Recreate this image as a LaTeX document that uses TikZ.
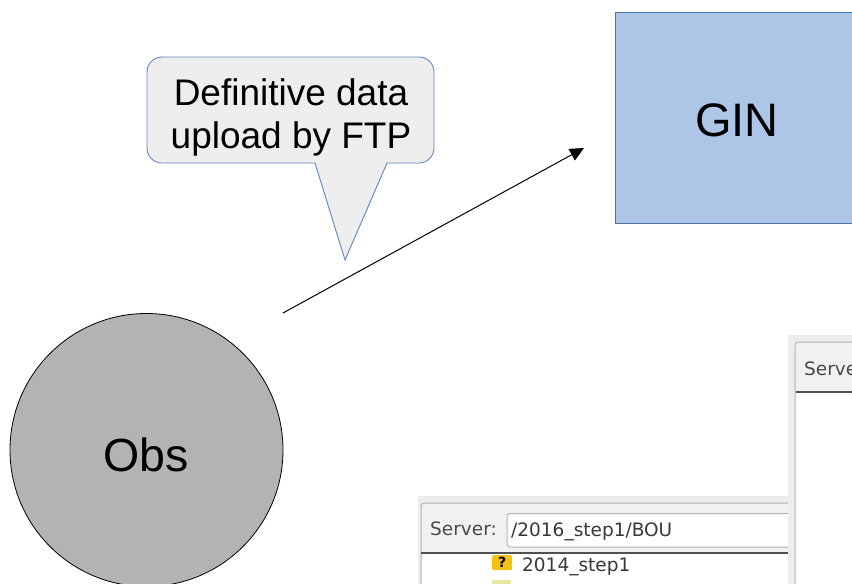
\documentclass[tikz,border=0pt]{standalone}
\usepackage{fontspec}
\setmainfont{Liberation Sans}
\newfontfamily\uifont{DejaVu Sans}
\usetikzlibrary{arrows.meta}
\definecolor{ginfill}{HTML}{ADC5E7}
\definecolor{ginedge}{HTML}{4A72A8}
\definecolor{callfill}{HTML}{EEEEEE}
\definecolor{calledge}{HTML}{5F87C0}
\definecolor{obsfill}{HTML}{B3B3B3}
\definecolor{uibg}{HTML}{EDECEB}
\definecolor{uihead}{HTML}{F2F1F0}
\definecolor{uiedge}{HTML}{B5B3B0}
\definecolor{uisep}{HTML}{505050}
\definecolor{uitext}{HTML}{4A4A4A}
\definecolor{iconyel}{HTML}{F5C211}
\tikzset{
  big/.style={font=\fontsize{46.5}{50}\selectfont},
  calltext/.style={font=\fontsize{37}{43}\selectfont, align=center, inner sep=0pt},
  uitxt/.style={font=\uifont\fontsize{18.5}{20}\selectfont, text=uitext, inner sep=0pt, anchor=base west},
  conn/.style={draw=black, line width=1pt, -{Triangle[length=14pt,width=13pt]}},
}
\begin{document}
\begin{tikzpicture}[x=1pt,y=-1pt]
\useasboundingbox (0,0) rectangle (852,584);
\fill[white] (0,0) rectangle (852,584);
\begin{scope}
\clip (0,0) rectangle (852,584);
% Obs circle
\node[circle, draw=black, line width=0.8pt, fill=obsfill, minimum size=273pt, inner sep=0pt] (obs) at (146.5,450) {};
\node[big, inner sep=0pt] (obslabel) at (146,455) {Obs};
% GIN box
\node[draw=ginedge, line width=1.1pt, fill=ginfill, minimum width=245pt, minimum height=211pt, inner sep=0pt, anchor=north west] (gin) at (615,12) {};
\node[big, inner sep=0pt, font=\fontsize{47}{50}\selectfont] (ginlabel) at (737,120) {GIN};
% callout
\coordinate (tip) at (345,260);
\draw[draw=calledge, line width=0.9pt, fill=callfill]
  (315,163) [rounded corners=15pt] -- (147,163) -- (147,57) -- (434,57) -- (434,163) [sharp corners] -- (387,163) -- (tip) -- cycle;
\node[calltext] (calllabel) at (291,117) {Definitive data\\upload by FTP};
% connector
\coordinate (a1) at (283,313);
\coordinate (a2) at (584,148);
\draw[conn] (a1) -- (a2);
% left screenshot panel
\fill[uibg] (418,496) rectangle (790,590);
\draw[uiedge, line width=1pt, fill=uihead, rounded corners=3pt] (421,503) rectangle (800,600);
\fill[white] (422,553) rectangle (790,590);
\draw[uiedge, line width=1pt, fill=white, rounded corners=3pt] (507,513.5) rectangle (800,547);
\draw[uisep, line width=1.3pt] (421,553) -- (790,553);
\node[uitxt] (srv1) at (430,535.5) {Server:};
\node[uitxt, text=black!78] (path1) at (511,536) {/2016\_step1/BOU};
\node[fill=iconyel, rounded corners=1.5pt, minimum width=20pt, minimum height=15pt, inner sep=0pt, font=\uifont\bfseries\fontsize{14}{14}\selectfont, anchor=north west] (icon1) at (492,555) {?};
\node[uitxt, text=black!78] (dir1) at (522,571) {2014\_step1};
\fill[black!25!yellow!40!white, rounded corners=2pt] (492,580) rectangle (511,590);
% right screenshot panel
\fill[uibg] (788,335) rectangle (860,590);
\draw[uiedge, line width=1pt, fill=uihead, rounded corners=3pt] (795,342) rectangle (870,600);
\fill[white] (796,392) rectangle (860,590);
\draw[uisep, line width=1.3pt] (795.5,392) -- (860,392);
\node[uitxt] (srv2) at (804,375) {Server:};
\end{scope}
\end{tikzpicture}
\end{document}
